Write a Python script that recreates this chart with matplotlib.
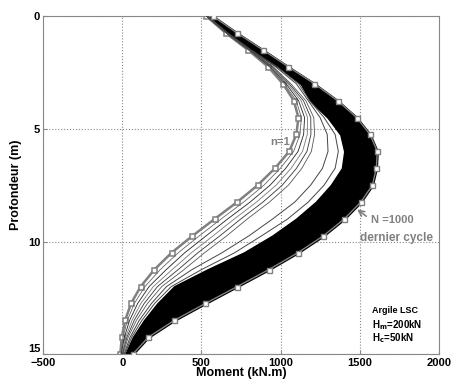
import matplotlib
matplotlib.use("Agg")
import matplotlib.pyplot as plt

plt.rcParams['font.family'] = ['Liberation Sans', 'DejaVu Sans']

# depth of the computation nodes (m)
depth = [0, 0.75, 1.5, 2.25, 3.0, 3.75, 4.5, 5.25, 6.0, 6.75, 7.5,
         8.25, 9.0, 9.75, 10.5, 11.25, 12.0, 12.75, 13.5, 14.25, 15.0]

# first cycle n=1
m_first = [532, 655, 795, 922, 1015, 1084, 1113, 1100, 1055, 965, 856,
           726, 584, 444, 312, 203, 117, 56, 19, -2, -12]
# last cycle N=1000
m_last = [573, 726, 889, 1050, 1214, 1360, 1481, 1565, 1611, 1605, 1580,
          1507, 1402, 1270, 1109, 925, 726, 525, 329, 165, 67]
# left edge of the dense set of cycles
m_band_left = [540, 668, 815, 990, 1130, 1190, 1300, 1380, 1405, 1390, 1320,
               1225, 1100, 950, 770, 540, 330, 225, 140, 70, 22]

# early cycles (fan just right of n=1)
m_early = [
    [533, 657, 798, 931, 1025, 1099, 1132, 1123, 1083, 999, 895, 767, 625, 487, 354, 240, 144, 77, 33, 6, -8],
    [534, 659, 801, 937, 1035, 1114, 1152, 1146, 1111, 1033, 934, 808, 666, 530, 395, 278, 170, 98, 47, 14, -5],
    [535, 661, 804, 943, 1045, 1130, 1171, 1169, 1139, 1067, 972, 848, 708, 574, 437, 315, 197, 118, 62, 22, -1],
    [536, 663, 807, 949, 1055, 1145, 1191, 1192, 1167, 1101, 1011, 889, 749, 617, 478, 353, 223, 139, 76, 30, 2],
    [537, 665, 810, 955, 1065, 1160, 1210, 1215, 1195, 1135, 1050, 930, 790, 660, 520, 390, 250, 160, 90, 38, 6],
]
# intermediate cycles
m_mid = [
    [538, 666, 812, 970, 1100, 1175, 1250, 1295, 1300, 1265, 1190, 1090, 950, 800, 630, 440, 280, 185, 108, 50, 12],
    [539, 667, 814, 980, 1115, 1185, 1275, 1345, 1365, 1345, 1275, 1175, 1045, 880, 710, 500, 310, 205, 125, 60, 17],
]

x_ticks = [-500, 0, 500, 1000, 1500, 2000]
y_ticks = [0, 5, 10, 15]

fig = plt.figure(figsize=(4.52, 3.85), dpi=100)
ax = fig.add_axes([0.095, 0.08, 0.876, 0.878])

# n=1 under the other cycles
ax.plot(m_first, depth, color='#808080', lw=1.8, marker='s', ms=3.6,
        mfc='white', mec='#808080', mew=1.1, zorder=1.5)

ax.fill_betweenx(depth, m_band_left, m_last, facecolor='black',
                 edgecolor='black', lw=1.6, zorder=2)

cols = ['#666666', '#222222', '#777777', '#333333', '#555555']
for i, m in enumerate(m_early):
    ax.plot(m, depth, color=cols[i % len(cols)], lw=0.6, zorder=3)
for m in m_mid:
    ax.plot(m, depth, color='#444444', lw=0.7, zorder=3)

ax.plot(m_last, depth, color='#808080', lw=1.0, marker='s', ms=3.6,
        mfc='white', mec='#808080', mew=1.0, zorder=4)

ax.set_xlim(-500, 2000)
ax.set_ylim(15, 0)
ax.set_xticks(x_ticks)
ax.set_yticks(y_ticks)
ax.tick_params(direction='in', length=3, labelsize=8, color='#888888')
ax.tick_params(axis='x', pad=3)
ax.tick_params(axis='y', pad=2)
for lab in ax.get_xticklabels() + ax.get_yticklabels():
    lab.set_fontweight('bold')
ax.get_yticklabels()[-1].set_va('bottom')
ax.grid(True, linestyle=':', color='#888888', lw=0.8)
for s in ax.spines.values():
    s.set_color('#888888')

ax.set_xlabel('Moment (kN.m)', fontsize=9, fontweight='bold', labelpad=-1)
ax.set_ylabel('Profondeur (m)', fontsize=9, fontweight='bold', labelpad=4)

ax.text(1062, 5.6, 'n=1', color='#808080', fontsize=8, fontweight='bold',
        ha='right', va='center', zorder=5)
ax.annotate('', xy=(1470, 8.5), xytext=(1555, 8.95),
            arrowprops=dict(arrowstyle='->', color='#808080', lw=1.2))
ax.text(1570, 9.05, 'N =1000', color='#808080', fontsize=8, fontweight='bold',
        ha='left', va='center')
ax.text(1500, 9.85, 'dernier cycle', color='#808080', fontsize=8.5,
        fontweight='bold', ha='left', va='center')

ax.text(1575, 13.05, 'Argile LSC', fontsize=6.5, fontweight='bold', ha='left', va='center')
ax.text(1575, 13.72, r'H$_{\mathbf{m}}$=200kN', fontsize=7, fontweight='bold', ha='left', va='center')
ax.text(1575, 14.3, r'H$_{\mathbf{c}}$=50kN', fontsize=7, fontweight='bold', ha='left', va='center')

fig.savefig('out.png', dpi=100)
